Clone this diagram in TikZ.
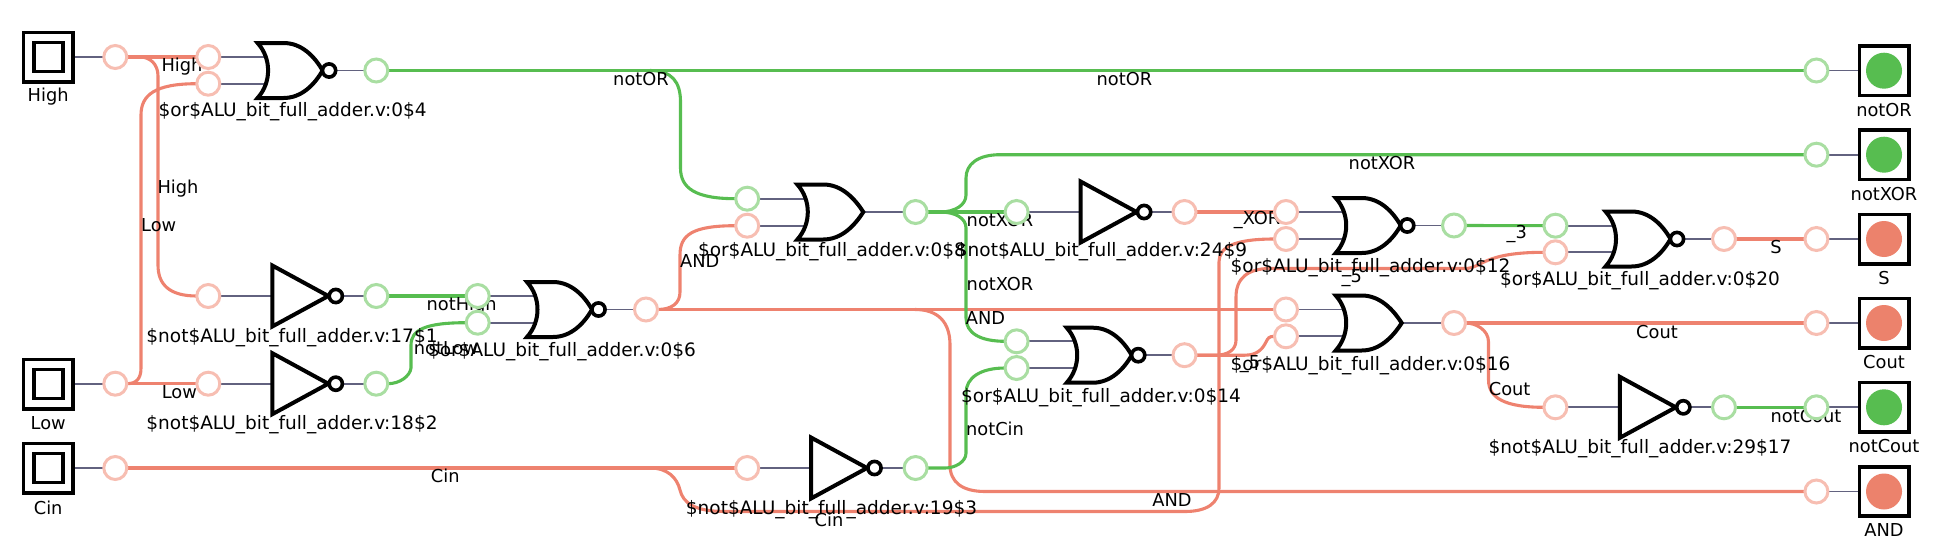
\documentclass[tikz,border=0pt]{standalone}
\usepackage{fontspec}
\setmainfont{DejaVu Sans}
\definecolor{red1}{HTML}{EE826F}
\definecolor{red2}{HTML}{F7BEB2}
\definecolor{grn1}{HTML}{57BD50}
\definecolor{grn2}{HTML}{A9DEA2}
\definecolor{ledr}{HTML}{EC826C}
\definecolor{stubc}{HTML}{62627F}
\pgfdeclarelayer{wires}
\pgfdeclarelayer{labs}
\pgfsetlayers{wires,labs,main}
\tikzset{
  rp/.style={circle,draw=red2,fill=white,line width=1.5pt,minimum size=11.5pt,inner sep=0pt,outer sep=0pt},
  gp/.style={circle,draw=grn2,fill=white,line width=1.5pt,minimum size=11.5pt,inner sep=0pt,outer sep=0pt},
  rw/.style={draw=red1,line width=1.55pt},
  gw/.style={draw=grn1,line width=1.55pt},
  stubw/.style={draw=stubc,line width=0.85pt},
  gatel/.style={draw=black,fill=white,line width=2pt,line join=miter},
  bubl/.style={draw=black,fill=white,line width=1.8pt},
  txt/.style={font=\fontsize{8.9pt}{10pt}\selectfont,inner sep=0pt,text=black},
  gtxt/.style={font=\fontsize{9.25pt}{10pt}\selectfont,inner sep=0pt,text=black},
  ibox/.style={draw=black,fill=white,line width=1.8pt,minimum size=24.7pt,inner sep=0pt,outer sep=0pt},
  iinner/.style={draw=black,fill=white,line width=1.8pt,minimum size=14.5pt,inner sep=0pt,outer sep=0pt},
  obox/.style={draw=black,fill=white,line width=1.8pt,minimum size=24.7pt,inner sep=0pt,outer sep=0pt},
  rled/.style={circle,fill=ledr,minimum size=18pt,inner sep=0pt},
  gled/.style={circle,fill=grn1,minimum size=18pt,inner sep=0pt},
  norg/.pic={
    \draw[gatel] (0,-27.5) -- (26,-27.5) .. controls (44,-27.5) and (57,-14) .. (65,0)
      .. controls (57,14) and (44,27.5) .. (26,27.5) -- (0,27.5)
      .. controls (14,12) and (14,-12) .. (0,-27.5) -- cycle;
    \draw[bubl] (71.5,0) circle (6.6);
    \coordinate (-a) at (8,-13.4); \coordinate (-b) at (8,13.4); \coordinate (-o) at (71.5,0);},
  org/.pic={
    \draw[gatel] (0,-27.5) -- (26,-27.5) .. controls (44,-27.5) and (57,-14) .. (66,0)
      .. controls (57,14) and (44,27.5) .. (26,27.5) -- (0,27.5)
      .. controls (14,12) and (14,-12) .. (0,-27.5) -- cycle;
    \coordinate (-a) at (8,-13.4); \coordinate (-b) at (8,13.4); \coordinate (-o) at (66,0);},
  notg/.pic={
    \draw[gatel] (0,-30.5) -- (56,0) -- (0,30.5) -- cycle;
    \draw[bubl] (63.5,0) circle (6.6);
    \coordinate (-a) at (0,0); \coordinate (-o) at (63.5,0);},
}
\begin{document}
\begin{tikzpicture}[x=0.5pt,y=-0.5pt]
\useasboundingbox (0,0) rectangle (1957,557);
% terminals
\foreach \n/\y/\l in {High/57/High,Low/384/Low,Cin/468/Cin}{
  \node[ibox] (b\n) at (48.2,\y) {};
  \node[iinner] (bi\n) at (48.2,\y) {};
  \node[txt] (t\n) at (48.2,\y+39.5) {\l};
}
\foreach \n/\y/\s in {notOR/70.7/gled,notXOR/154.7/gled,S/239/rled,Cout/323/rled,notCout/407.3/gled,AND/491.5/rled}{
  \node[obox] (o\n) at (1884,\y) {};
  \node[\s] (l\n) at (1884,\y) {};
  \node[txt] (u\n) at (1884,\y+39) {\n};
}
% gates
\pic (g4) at (257.6,70.5) {norg};
\pic (g1) at (272.3,296) {notg};
\pic (g2) at (272.3,383.7) {notg};
\pic (g6) at (527,309.5) {norg};
\pic (g8) at (797.3,212) {org};
\pic (g3) at (811,468) {notg};
\pic (g9) at (1080.6,212) {notg};
\pic (g14) at (1066.7,355.2) {norg};
\pic (g12) at (1335.7,225.5) {norg};
\pic (g16) at (1335.7,323) {org};
\pic (g20) at (1605.5,239) {norg};
\pic (g17) at (1619.8,407.3) {notg};
% ports
\node[rp] (pHigh) at (115.3,57) {};
\node[rp] (pLow) at (115.3,383.7) {};
\node[rp] (pCin) at (115.3,468) {};
\node[rp] (g4x) at (208.3,57) {};
\node[rp] (g4y) at (208.3,83.7) {};
\node[gp] (g4q) at (376.3,70.5) {};
\node[rp] (g1x) at (208.3,296) {};
\node[gp] (g1q) at (376.3,296) {};
\node[rp] (g2x) at (208.3,383.7) {};
\node[gp] (g2q) at (376.3,383.7) {};
\node[gp] (g6x) at (477.7,296) {};
\node[gp] (g6y) at (477.7,322.7) {};
\node[rp] (g6q) at (646,309.5) {};
\node[gp] (g8x) at (747.2,198.7) {};
\node[rp] (g8y) at (747.2,225.7) {};
\node[gp] (g8q) at (915.6,212) {};
\node[rp] (g3x) at (747.2,468) {};
\node[gp] (g3q) at (915.6,468) {};
\node[gp] (g9x) at (1016.6,212) {};
\node[rp] (g9q) at (1184.5,212) {};
\node[gp] (g14x) at (1016.6,341.3) {};
\node[gp] (g14y) at (1016.6,368) {};
\node[rp] (g14q) at (1184.5,355.2) {};
\node[rp] (g12x) at (1286,212) {};
\node[rp] (g12y) at (1286,239) {};
\node[gp] (g12q) at (1454,225.5) {};
\node[rp] (g16x) at (1286,309.5) {};
\node[rp] (g16y) at (1286,336.3) {};
\node[rp] (g16q) at (1454,323) {};
\node[gp] (g20x) at (1555.4,225.7) {};
\node[rp] (g20y) at (1555.4,252.3) {};
\node[rp] (g20q) at (1724,239) {};
\node[rp] (g17x) at (1555.4,407.3) {};
\node[gp] (g17q) at (1724,407.3) {};
\node[gp] (qnotOR) at (1816.4,70.5) {};
\node[gp] (qnotXOR) at (1816.4,154.7) {};
\node[rp] (qS) at (1816.4,239) {};
\node[rp] (qCout) at (1816.4,323) {};
\node[gp] (qnotCout) at (1816.4,407.3) {};
\node[rp] (qAND) at (1816.4,491.5) {};
% gate labels
\node[gtxt] (n4) at (292.6,112) {\$or\$ALU\_bit\_full\_adder.v:0\$4};
\node[gtxt] (n1) at (292,338) {\$not\$ALU\_bit\_full\_adder.v:17\$1};
\node[gtxt] (n2) at (292,424.7) {\$not\$ALU\_bit\_full\_adder.v:18\$2};
\node[gtxt] (n6) at (562,351.3) {\$or\$ALU\_bit\_full\_adder.v:0\$6};
\node[gtxt] (n8) at (832,251.7) {\$or\$ALU\_bit\_full\_adder.v:0\$8};
\node[gtxt] (n3) at (831.5,509.7) {\$not\$ALU\_bit\_full\_adder.v:19\$3};
\node[gtxt] (n9) at (1101.5,251.7) {\$not\$ALU\_bit\_full\_adder.v:24\$9};
\node[gtxt] (n14) at (1101,397.7) {\$or\$ALU\_bit\_full\_adder.v:0\$14};
\node[gtxt] (n12) at (1370.5,267.7) {\$or\$ALU\_bit\_full\_adder.v:0\$12};
\node[gtxt] (n16) at (1370.5,365.7) {\$or\$ALU\_bit\_full\_adder.v:0\$16};
\node[gtxt] (n20) at (1640,281) {\$or\$ALU\_bit\_full\_adder.v:0\$20};
\node[gtxt] (n17) at (1640,448.7) {\$not\$ALU\_bit\_full\_adder.v:29\$17};
\begin{pgfonlayer}{labs}
\foreach \i/\x/\y/\l in {a/182/66.7/High,b/178/188.7/High,c/158.7/225/Low,d/179.3/392/Low,e/445.3/476/Cin,f/829/520.3/Cin,
  g/461.7/305.3/notHigh,h/446/347.7/notLow,i/641/79.3/notOR,j/1124.4/79/notOR,k/1000/220/notXOR,l/1000/283.7/notXOR,
  m/1382/163.3/notXOR,n/699.7/260.7/AND,o/985.5/317.7/AND,p/1172/499.7/AND,q/995/429/notCin,r/1257/220/\_XOR,
  s/1516.7/234/\_3,t/1351.7/278/\_5,u/1250/364.3/\_5,v/1776/246.7/S,w/1657/332/Cout,x/1509.6/388.7/Cout,y/1806/416/notCout}{
  \node[txt] (w\i) at (\x,\y) {\l};
}
\end{pgfonlayer}
\begin{pgfonlayer}{wires}
% stubs
\foreach \a/\b in {bHigh.east/pHigh.west,bLow.east/pLow.west,bCin.east/pCin.west,
  g4x.east/g4-a,g4y.east/g4-b,g4q.west/g4-o,g1x.east/g1-a,g1q.west/g1-o,g2x.east/g2-a,g2q.west/g2-o,
  g6x.east/g6-a,g6y.east/g6-b,g6q.west/g6-o,g8x.east/g8-a,g8y.east/g8-b,g8q.west/g8-o,
  g3x.east/g3-a,g3q.west/g3-o,g9x.east/g9-a,g9q.west/g9-o,g14x.east/g14-a,g14y.east/g14-b,g14q.west/g14-o,
  g12x.east/g12-a,g12y.east/g12-b,g12q.west/g12-o,g16x.east/g16-a,g16y.east/g16-b,g16q.west/g16-o,
  g20x.east/g20-a,g20y.east/g20-b,g20q.west/g20-o,g17x.east/g17-a,g17q.west/g17-o,
  qnotOR.east/onotOR.west,qnotXOR.east/onotXOR.west,qS.east/oS.west,qCout.east/oCout.west,qnotCout.east/onotCout.west,qAND.east/oAND.west}{
  \draw[stubw] (\a) -- (\a -| \b);
}
% High
\draw[rw] (pHigh.east) -- (g4x.west);
\draw[rw] (pHigh.east) -- (140,57) .. controls (150,57) and (158,64) .. (158,76) -- (158,265)
  .. controls (158,285) and (170,296) .. (g1x.west);
% Low
\draw[rw] (pLow.east) -- (g2x.west);
\draw[rw] (pLow.east) .. controls (136,383.7) and (141,379) .. (141,368) -- (141,115)
  .. controls (141,95) and (155,83.7) .. (g4y.west);
% notOR
\draw[gw] (g4q.east) -- (qnotOR.west);
\draw[gw] (650,70.5) .. controls (672,70.5) and (680.5,82) .. (680.5,102) -- (680.5,168)
  .. controls (680.5,188) and (695,198.7) .. (g8x.west);
% AND
\draw[rw] (g6q.east) -- (g16x.west);
\draw[rw] (g6q.east) .. controls (672,309.5) and (680,303) .. (680,292) -- (680,255)
  .. controls (680,235) and (692,225.7) .. (g8y.west);
\draw[rw] (915,309.5) .. controls (938,309.5) and (950,322) .. (950,345) -- (950,465)
  .. controls (950,482) and (962,491.5) .. (985,491.5) -- (qAND.west);
% notHigh, notLow
\draw[gw] (g1q.east) -- (g6x.west);
\draw[gw] (g2q.east) .. controls (400,383.7) and (410,376) .. (411,368) -- (411,345)
  .. controls (411,330) and (425,322.7) .. (g6y.west);
% notXOR
\draw[gw] (g8q.east) -- (g9x.west);
\draw[gw] (g8q.east) -- (940,212) .. controls (955,212) and (966,205) .. (966,195) -- (966,178)
  .. controls (966,164) and (978,154.7) .. (1000,154.7) -- (qnotXOR.west);
\draw[gw] (g8q.east) -- (940,212) .. controls (955,212) and (966,218) .. (966,228) -- (966,318)
  .. controls (966,333) and (980,341.3) .. (g14x.west);
% Cin
\draw[rw] (pCin.east) -- (g3x.west);
\draw[rw] (650,468) .. controls (668,468) and (677,478) .. (680,490) .. controls (683,503) and (695,511.5) .. (725,511.5)
  -- (1185,511.5) .. controls (1207,511.5) and (1219,503) .. (1219,488) -- (1219,262)
  .. controls (1219,248) and (1232,239) .. (g12y.west);
% notCin
\draw[gw] (g3q.east) -- (945,468) .. controls (955,468) and (966,462) .. (966,453) -- (966,393)
  .. controls (966,378) and (980,368) .. (g14y.west);
% XOR
\draw[rw] (g9q.east) -- (g12x.west);
% _5
\draw[rw] (g14q.east) -- (1215,355.2) .. controls (1228,355.2) and (1236,350) .. (1236,340) -- (1236,297)
  .. controls (1236,278) and (1248,268.5) .. (1270,268.5) -- (1465,268.5)
  .. controls (1482,268.5) and (1482,252.3) .. (g20y.west);
\draw[rw] (g14q.east) -- (1245,355.2) .. controls (1258,355.2) and (1263,348) .. (1266,342) .. controls (1268,338) and (1269,336.3) .. (g16y.west);
% _3, S
\draw[gw] (g12q.east) -- (g20x.west);
\draw[rw] (g20q.east) -- (qS.west);
% Cout
\draw[rw] (g16q.east) -- (qCout.west);
\draw[rw] (g16q.east) .. controls (1476,323) and (1488.5,330) .. (1488.5,342) -- (1488.5,380)
  .. controls (1488.5,398) and (1505,407.3) .. (g17x.west);
\draw[gw] (g17q.east) -- (qnotCout.west);
\end{pgfonlayer}
\end{tikzpicture}
\end{document}
